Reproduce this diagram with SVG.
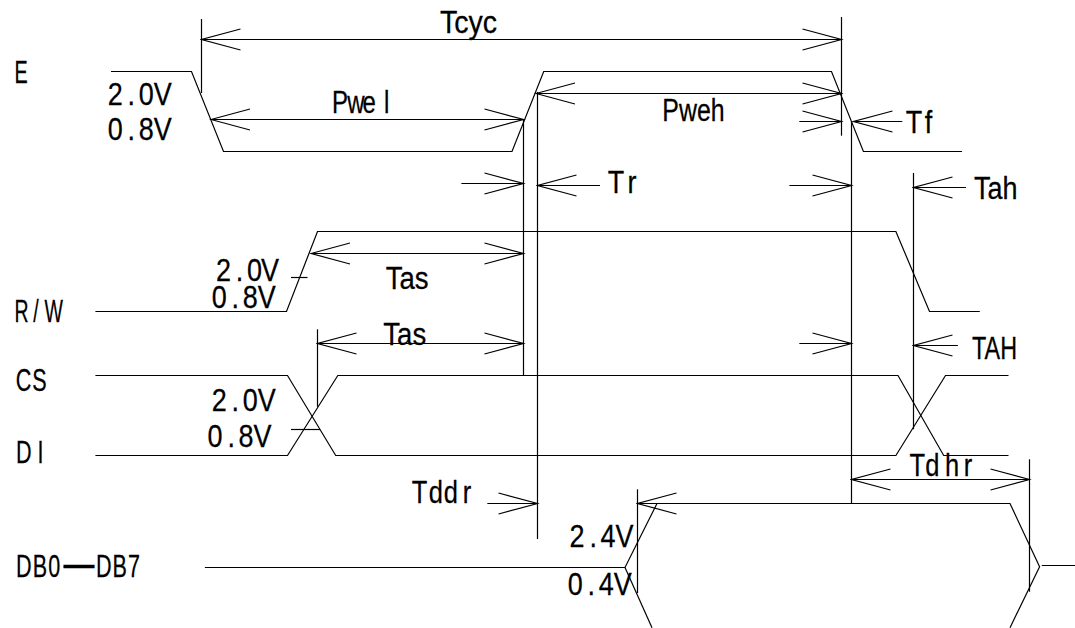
<svg xmlns="http://www.w3.org/2000/svg" width="1075" height="628" viewBox="0 0 1075 628">
<style>
.w,.d,.g{fill:none;stroke:#000;stroke-width:1.2}
.d{marker-end:url(#a)}
.b{marker-start:url(#s);marker-end:url(#a)}
.s{marker-start:url(#s)}
text{font-family:"Liberation Sans",Arial,sans-serif;font-size:30px;fill:#000;stroke:#000;stroke-width:.25}
</style>
<defs>
<marker id="a" markerUnits="userSpaceOnUse" markerWidth="42" markerHeight="24" refX="40" refY="12" orient="auto"><path d="M1,1.5 L40,12 L1,22.5" fill="none" stroke="#000" stroke-width="1.2"/></marker>
<marker id="s" markerUnits="userSpaceOnUse" markerWidth="42" markerHeight="24" refX="2" refY="12" orient="auto"><path d="M41,1.5 L2,12 L41,22.5" fill="none" stroke="#000" stroke-width="1.2"/></marker>
</defs>
<rect width="1075" height="628" fill="#fff"/>
<g id="signal-E">
<path class="w" d="M111,71.5H191.5L223.5,151.5H512L543.7,71.5H831.5L863.4,151.5H962"/>
<text transform="matrix(.66 0 0 1.07 14.5 83.3)">E</text>
<text transform="matrix(.9 0 0 1.07 107.8 105)" x="0 22 34.4 51">2.0V</text>
<text transform="matrix(.9 0 0 1.07 107.8 140)" x="0 22 34.4 51">0.8V</text>
</g>
<g id="signal-RW">
<path class="w" d="M95.4,311.5H286.5L317.5,231.5H895.9L929.5,311.5H979.8"/>
<path class="w" d="M291,277.5H307.5"/>
<text transform="matrix(.65 0 0 1.07 14.5 321.7)" x="0 29 46">R/W</text>
<text transform="matrix(.9 0 0 1.07 216 281)" x="0 22 34.4 50">2.0V</text>
<text transform="matrix(.9 0 0 1.07 211.8 307.7)" x="0 22 34.4 51">0.8V</text>
</g>
<g id="signal-CS">
<path class="w" d="M95.4,375.5H287.5L335.7,455.5H895.9L945.5,375.5H1008.5"/>
<text transform="matrix(.72 0 0 1.07 15.8 391)" x="0 23">CS</text>
<text transform="matrix(.9 0 0 1.07 211.8 411)" x="0 22 34.4 51">2.0V</text>
</g>
<g id="signal-DI">
<path class="w" d="M95.4,455.5H287.5L337.8,375.5H898L943.7,455.5H1008.5"/>
<path class="w" d="M291,429.5H320"/>
<text transform="matrix(.72 0 0 1.07 16 462.7)" x="0 30">DI</text>
<text transform="matrix(.9 0 0 1.07 207.6 447.3)" x="0 22 34.4 51">0.8V</text>
</g>
<g id="signal-DB">
<path class="w" d="M204.9,567.5H625L657,503.5H1010L1039.6,566.7L1010,627.7"/>
<path class="w" d="M625,567.5L652,627.7"/>
<path class="w" d="M1041.8,565.5H1075"/>
<text transform="matrix(.72 0 0 1.07 16 576.7)"><tspan x="0" letter-spacing="1.5">DB0</tspan><tspan x="66" dy="1" font-size="43">—</tspan><tspan x="111" dy="-1" letter-spacing="1.5">DB7</tspan></text>
<text transform="matrix(.9 0 0 1.07 569.6 547.3)" x="0 22 34.4 51">2.4V</text>
<text transform="matrix(.9 0 0 1.07 567.8 595.3)" x="0 22 34.4 51">0.4V</text>
</g>
<g id="connectors">
<path class="g" d="M201.5,19V93"/>
<path class="g" d="M841.5,17V135.7"/>
<path class="g" d="M523.5,119V375.5"/>
<path class="g" d="M537.5,92V539"/>
<path class="g" d="M851.5,121V503.5"/>
<path class="g" d="M913.5,173V429.3"/>
<path class="g" d="M317.5,329.3V406.7"/>
<path class="g" d="M637.5,489.3V593"/>
<path class="g" d="M1029.5,459.3V591.7"/>
<path class="b w" d="M201.5,39.5H841.5"/>
<path class="b w" d="M211,119.5H523.5"/>
<path class="b w" d="M536,93.5H841.5"/>
<path class="b w" d="M311,253.5H523.5"/>
<path class="b w" d="M317.5,343.5H523.5"/>
<path class="b w" d="M851.5,479.5H1029.5"/>
<path class="d" d="M461.4,183.5H523.5"/>
<path class="d" d="M799.3,121.5H841.5"/>
<path class="d" d="M789.4,185.5H851.5"/>
<path class="d" d="M799.3,343.5H851.5"/>
<path class="d" d="M487.3,503.5H537.5"/>
<path class="s w" d="M853.5,121.5H902.3"/>
<path class="s w" d="M537.5,185.5H600"/>
<path class="s w" d="M913.5,187.5H966"/>
<path class="s w" d="M913.5,345.5H957.9"/>
<path class="s w" d="M637.5,503.5H680"/>
</g>
<g id="labels">
<text transform="matrix(.95 0 0 1.07 440 32.7)">Tcyc</text>
<text transform="matrix(.8 0 0 1.07 332 112.7)" x="0 19 38 65">Pwel</text>
<text transform="matrix(.83 0 0 1.07 662.3 120.7)">Pweh</text>
<text transform="matrix(.9 0 0 1.07 905.8 133.3)" x="0 21">Tf</text>
<text transform="matrix(.9 0 0 1.07 607.8 193.3)" x="0 22">Tr</text>
<text transform="matrix(.9 0 0 1.07 974 199.3)">Tah</text>
<text transform="matrix(.92 0 0 1.07 385.7 289.3)">Tas</text>
<text transform="matrix(.92 0 0 1.07 383.3 345)">Tas</text>
<text transform="matrix(.85 0 0 1.07 411.8 503.3)" x="0 20 37.6 60">Tddr</text>
<text transform="matrix(.78 0 0 1.07 972 359.3)">TAH</text>
<text transform="matrix(.85 0 0 1.07 909.4 475.7)" x="0 18.8 42 64">Tdhr</text>
</g>
</svg>
